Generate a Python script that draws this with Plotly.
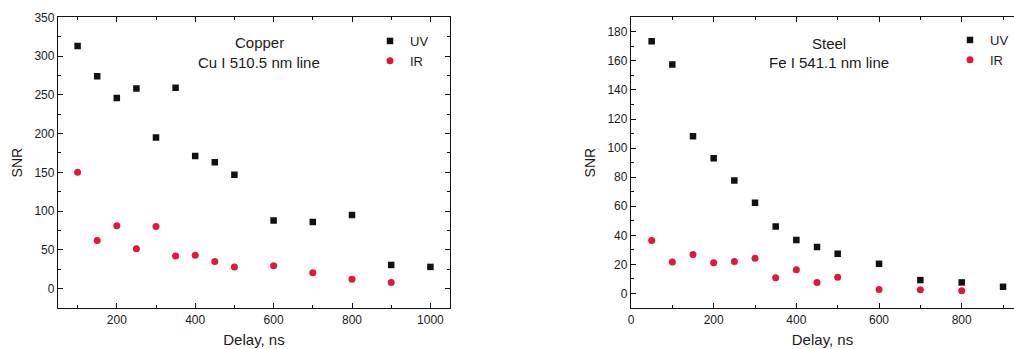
import plotly.graph_objects as go

# ---- data ----
cu_delay = [100, 150, 200, 250, 300, 350, 400, 450, 500, 600, 700, 800, 900, 1000]
cu_uv = [313, 274, 246, 258, 195, 259, 171, 163, 147, 88, 86, 95, 30.5, 28]
cu_ir_delay = [100, 150, 200, 250, 300, 350, 400, 450, 500, 600, 700, 800, 900]
cu_ir = [150, 62, 81, 51.5, 80, 42, 43, 35, 28, 29.5, 20.5, 12, 8]

fe_delay = [50, 100, 150, 200, 250, 300, 350, 400, 450, 500, 600, 700, 800, 900]
fe_uv = [173.6, 157.5, 108.2, 93.1, 77.7, 62.4, 46.1, 36.7, 31.9, 27.3, 20.4, 9.2, 7.6, 4.6]
fe_ir_delay = [50, 100, 150, 200, 250, 300, 350, 400, 450, 500, 600, 700, 800]
fe_ir = [36.5, 21.6, 26.8, 21.1, 22.0, 24.3, 10.8, 16.3, 7.6, 11.2, 2.8, 2.5, 1.8]

W, H = 1014, 349
FONT = "Liberation Sans, Arial, sans-serif"
BLACK = "#111111"
RED = "#e3173e"
TXT = "#1a1a1a"

fig = go.Figure()
sq = dict(symbol="square", size=6.5, color=BLACK)
ci = dict(symbol="circle", size=7, color=RED)

fig.add_trace(go.Scatter(x=cu_delay, y=cu_uv, mode="markers", marker=sq, name="UV",
                         xaxis="x", yaxis="y", legend="legend"))
fig.add_trace(go.Scatter(x=cu_ir_delay, y=cu_ir, mode="markers", marker=ci, name="IR",
                         xaxis="x", yaxis="y", legend="legend"))
fig.add_trace(go.Scatter(x=fe_delay, y=fe_uv, mode="markers", marker=sq, name="UV",
                         xaxis="x2", yaxis="y2", legend="legend2"))
fig.add_trace(go.Scatter(x=fe_ir_delay, y=fe_ir, mode="markers", marker=ci, name="IR",
                         xaxis="x2", yaxis="y2", legend="legend2"))

def px_x(p):
    return p / W

def px_y(p):
    return 1 - p / H

ydom = [px_y(308), px_y(17.3)]

common = dict(showgrid=False, zeroline=False, showline=True, linecolor=BLACK, linewidth=1.3,
              ticks="inside", ticklen=5, tickwidth=1.2, tickcolor=BLACK,
              tickfont=dict(family=FONT, size=12, color=TXT),
              automargin=False)
minor = dict(ticks="inside", ticklen=3, tickwidth=1, tickcolor=BLACK, showgrid=False)
title_x_font = dict(family=FONT, size=15, color=TXT)
title_y_font = dict(family=FONT, size=14, color=TXT)

fig.update_layout(
    width=W, height=H,
    margin=dict(l=0, r=0, t=0, b=0),
    paper_bgcolor="white", plot_bgcolor="white",
    xaxis=dict(domain=[px_x(58), px_x(450)], range=[50, 1050], dtick=200, tick0=0,
               mirror="ticks", anchor="y",
               minor=dict(dtick=100, tick0=0, **minor),
               title=dict(text="Delay, ns", font=title_x_font, standoff=8),
               **common),
    yaxis=dict(domain=ydom, range=[-25, 350], dtick=50, tick0=0, mirror="ticks", anchor="x",
               minor=dict(dtick=25, tick0=0, **minor),
               title=dict(text="SNR", font=title_y_font, standoff=8),
               **common),
    xaxis2=dict(domain=[px_x(631), 1.0], range=[0, 926.5], dtick=200, tick0=0,
                mirror="ticks", anchor="y2",
                minor=dict(dtick=100, tick0=0, **minor),
                title=dict(text="Delay, ns", font=title_x_font, standoff=8),
                **common),
    yaxis2=dict(domain=ydom, range=[-10, 190], dtick=20, tick0=0, mirror=False, anchor="x2",
                minor=dict(dtick=10, tick0=0, **minor),
                title=dict(text="SNR", font=title_y_font, standoff=8),
                **common),
    legend=dict(x=px_x(370), y=px_y(26), xanchor="left", yanchor="top",
                bgcolor="rgba(0,0,0,0)", font=dict(family=FONT, size=13, color=TXT),
                tracegroupgap=0, itemwidth=30),
    legend2=dict(x=px_x(950), y=px_y(25), xanchor="left", yanchor="top",
                 bgcolor="rgba(0,0,0,0)", font=dict(family=FONT, size=13, color=TXT),
                 tracegroupgap=0, itemwidth=30),
    showlegend=True,
)

ann_font = dict(family=FONT, size=15, color=TXT)
annots = [
    dict(text="Copper", x=259, y=43),
    dict(text="Cu I 510.5 nm line", x=259, y=63),
    dict(text="Steel", x=829, y=44),
    dict(text="Fe I 541.1 nm line", x=829, y=63),
]
for a in annots:
    fig.add_annotation(text=a["text"], x=px_x(a["x"]), y=px_y(a["y"]), xref="paper", yref="paper",
                       xanchor="center", yanchor="middle", showarrow=False, font=ann_font)

fig.write_html("out.html",
               config={"displayModeBar": False},
               post_script="document.body.style.margin='0';document.body.style.overflow='hidden';")
